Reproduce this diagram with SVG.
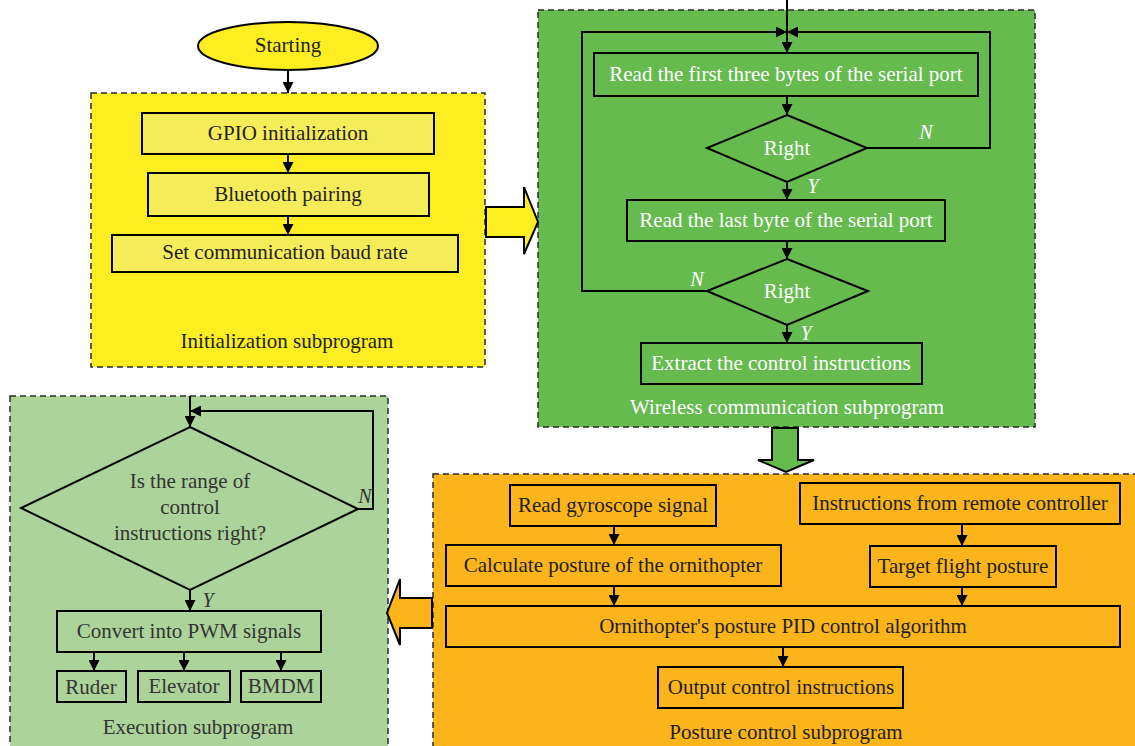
<svg xmlns="http://www.w3.org/2000/svg" width="1135" height="746" viewBox="0 0 1135 746">
<defs>
<marker id="ah" viewBox="0 0 10 10" refX="10" refY="5" markerWidth="5.5" markerHeight="5.5" orient="auto" markerUnits="strokeWidth">
<path d="M0,0 L10,5 L0,10 Z" fill="#000"/>
</marker>
</defs>
<style>
text{font-family:"Liberation Serif","Times New Roman",serif;font-size:21px;text-anchor:middle;}
.dk{fill:#231f20;}
.wt{fill:#ffffff;}
.gr{fill:#333333;}
.it{font-style:italic;font-size:20px;}
.frame{stroke:#2a2a2a;stroke-width:1.5;stroke-dasharray:6,4;}
.box{stroke:#000;stroke-width:2;}
.ln{fill:none;stroke:#000;stroke-width:2;}
.ar{fill:none;stroke:#000;stroke-width:2;marker-end:url(#ah);}
.big{stroke:#000;stroke-width:2;stroke-linejoin:miter;}
</style>
<rect width="1135" height="746" fill="#ffffff"/>

<!-- Frames -->
<g id="init-frame">
<rect x="91" y="93" width="394" height="274" fill="#fcee21" class="frame"/>
<text x="287" y="348" class="dk">Initialization subprogram</text>
</g>
<g id="wireless-frame">
<rect x="538" y="10" width="497" height="417" fill="#66bb4f" class="frame"/>
<text x="787" y="414" class="wt">Wireless communication subprogram</text>
</g>
<g id="exec-frame">
<rect x="10" y="396" width="378" height="360" fill="#acd49a" class="frame"/>
<text x="198" y="734" class="gr">Execution subprogram</text>
</g>
<g id="posture-frame">
<rect x="433" y="474" width="712" height="290" fill="#fbb41a" class="frame"/>
<text x="786" y="739" class="dk">Posture control subprogram</text>
</g>

<!-- Big transfer arrows -->
<g id="arrow-init-wireless">
<path d="M486,207 L524,207 L524,187 L538,222 L524,254 L524,237 L486,237 Z" fill="#fcee21" class="big"/>
</g>
<g id="arrow-wireless-posture">
<path d="M772,428 L798,428 L798,460 L814,460 L786,472 L758,460 L772,460 Z" fill="#66bb4f" class="big"/>
</g>
<g id="arrow-posture-exec">
<path d="M432,598 L400,598 L400,579 L387,613 L400,645 L400,628 L432,628 Z" fill="#fbb41a" class="big"/>
</g>

<!-- Nodes -->
<g id="start">
<ellipse cx="288" cy="46" rx="90" ry="24" fill="#fcee21" stroke="#000" stroke-width="2"/>
<text x="288" y="52" class="dk">Starting</text>
</g>
<g id="gpio">
<rect x="142" y="113" width="292" height="41" fill="#f5ec5a" class="box"/>
<text x="288" y="140" class="dk">GPIO initialization</text>
</g>
<g id="bluetooth">
<rect x="148" y="173" width="281" height="43" fill="#f5ec5a" class="box"/>
<text x="288" y="201" class="dk">Bluetooth pairing</text>
</g>
<g id="baud">
<rect x="112" y="235" width="346" height="37" fill="#f5ec5a" class="box"/>
<text x="285" y="259" class="dk">Set communication baud rate</text>
</g>

<g id="read3">
<rect x="594" y="53" width="384" height="43" fill="#66bb4f" class="box"/>
<text x="786" y="81" class="wt">Read the first three bytes of the serial port</text>
</g>
<g id="right1">
<polygon points="787,115 867,148 787,182 707,148" fill="#66bb4f" class="box"/>
<text x="787" y="155" class="wt">Right</text>
</g>
<g id="readlast">
<rect x="627" y="200" width="318" height="41" fill="#66bb4f" class="box"/>
<text x="786" y="227" class="wt">Read the last byte of the serial port</text>
</g>
<g id="right2">
<polygon points="787,259 868,291 787,325 707,291" fill="#66bb4f" class="box"/>
<text x="787" y="298" class="wt">Right</text>
</g>
<g id="extract">
<rect x="641" y="343" width="281" height="41" fill="#66bb4f" class="box"/>
<text x="781" y="370" class="wt">Extract the control instructions</text>
</g>

<g id="gyro">
<rect x="510" y="485" width="206" height="41" fill="#fbb41a" class="box"/>
<text x="613" y="512" class="dk">Read gyroscope signal</text>
</g>
<g id="remote">
<rect x="800" y="483" width="320" height="41" fill="#fbb41a" class="box"/>
<text x="960" y="510" class="dk">Instructions from remote controller</text>
</g>
<g id="calc">
<rect x="446" y="545" width="335" height="41" fill="#fbb41a" class="box"/>
<text x="613" y="572" class="dk">Calculate posture of the ornithopter</text>
</g>
<g id="target">
<rect x="870" y="546" width="186" height="41" fill="#fbb41a" class="box"/>
<text x="963" y="573" class="dk">Target flight posture</text>
</g>
<g id="pid">
<rect x="446" y="606" width="674" height="41" fill="#fbb41a" class="box"/>
<text x="783" y="633" class="dk">Ornithopter's posture PID control algorithm</text>
</g>
<g id="output">
<rect x="658" y="667" width="245" height="41" fill="#fbb41a" class="box"/>
<text x="781" y="694" class="dk">Output control instructions</text>
</g>

<g id="range">
<polygon points="190,427 358,509 190,590 21,508" fill="#acd49a" class="box"/>
<text x="190" y="488" class="gr">Is the range of</text>
<text x="190" y="514" class="gr">control</text>
<text x="190" y="540" class="gr">instructions right?</text>
</g>
<g id="pwm">
<rect x="57" y="611" width="264" height="41" fill="#acd49a" class="box"/>
<text x="189" y="638" class="gr">Convert into PWM signals</text>
</g>
<g id="ruder">
<rect x="57" y="671" width="69" height="31" fill="#acd49a" class="box"/>
<text x="91" y="694" class="gr">Ruder</text>
</g>
<g id="elevator">
<rect x="138" y="671" width="92" height="31" fill="#acd49a" class="box"/>
<text x="184" y="693" class="gr">Elevator</text>
</g>
<g id="bmdm">
<rect x="241" y="671" width="80" height="31" fill="#acd49a" class="box"/>
<text x="281" y="693" class="gr">BMDM</text>
</g>

<!-- Connectors -->
<g id="connectors">
<line x1="288" y1="70" x2="288" y2="93" class="ar"/>
<line x1="288" y1="154" x2="288" y2="173" class="ar"/>
<line x1="288" y1="216" x2="288" y2="235" class="ar"/>

<line x1="787" y1="0" x2="787" y2="53" class="ar"/>
<polyline points="707,291 582,291 582,32 787,32" class="ar"/>
<polyline points="867,148 990,148 990,32 787,32" class="ar"/>
<line x1="787" y1="96" x2="787" y2="115" class="ar"/>
<line x1="787" y1="182" x2="787" y2="200" class="ar"/>
<line x1="787" y1="241" x2="787" y2="259" class="ar"/>
<line x1="787" y1="325" x2="787" y2="343" class="ar"/>
<text x="926" y="139" class="wt it">N</text>
<text x="813" y="193" class="wt it">Y</text>
<text x="697" y="286" class="wt it">N</text>
<text x="806" y="340" class="wt it">Y</text>

<line x1="614" y1="526" x2="614" y2="545" class="ar"/>
<line x1="962" y1="524" x2="962" y2="546" class="ar"/>
<line x1="614" y1="586" x2="614" y2="606" class="ar"/>
<line x1="962" y1="587" x2="962" y2="606" class="ar"/>
<line x1="783" y1="647" x2="783" y2="667" class="ar"/>

<line x1="190" y1="396" x2="190" y2="427" class="ar"/>
<polyline points="358,509 373,509 373,411 190,411" class="ar"/>
<text x="365" y="503" class="gr it">N</text>
<text x="208" y="607" class="gr it">Y</text>
<line x1="190" y1="590" x2="190" y2="611" class="ar"/>
<line x1="94" y1="652" x2="94" y2="671" class="ar"/>
<line x1="184" y1="652" x2="184" y2="671" class="ar"/>
<line x1="281" y1="652" x2="281" y2="671" class="ar"/>
</g>
</svg>
